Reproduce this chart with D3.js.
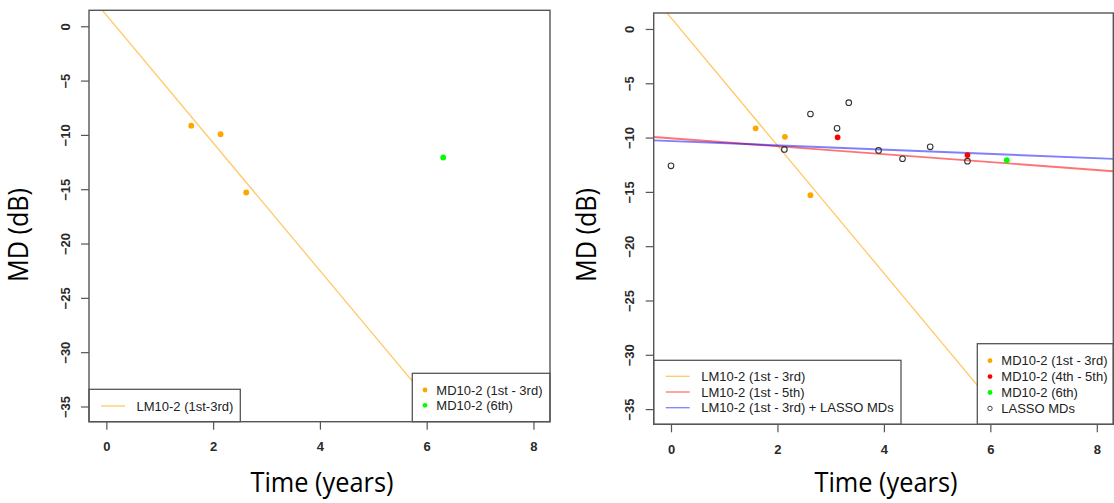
<!DOCTYPE html>
<html>
<head>
<meta charset="utf-8">
<script src="https://cdn.jsdelivr.net/npm/d3@7/dist/d3.min.js"></script>
<style>
  html, body { margin: 0; padding: 0; background: #fff; }
  svg { display: block; }
</style>
</head>
<body>
<svg id="chart" width="1114" height="503"></svg>
<script>
// ---------------- data ----------------
const xTicks = [0, 2, 4, 6, 8];
const yTicks = [0, -5, -10, -15, -20, -25, -30, -35];

// measured MDs (years, dB)
const mdFirstX = [1.59, 2.14, 2.62];
const mdFirstY = [-9.15, -9.93, -15.3];
const mdMidX = [3.13, 5.57];
const mdMidY = [-9.98, -11.61];
const mdLastX = [6.31];
const mdLastY = [-12.08];
// LASSO-predicted MDs
const lassoX = [0.0, 2.13, 2.62, 3.12, 3.34, 3.90, 4.35, 4.87, 5.57];
const lassoY = [-12.6, -11.09, -7.83, -9.15, -6.79, -11.18, -11.95, -10.85, -12.17];

// linear fits (intercept, slope)
const fitNames = ["LM10-2 (1st - 3rd)", "LM10-2 (1st - 5th)", "LM10-2 (1st - 3rd) + LASSO MDs"];
const fitIntercept = [1.03, -10.07, -10.32];
const fitSlope = [-5.88, -0.364, -0.198];

const leftLineLegend = ["LM10-2 (1st-3rd)"];
const leftPointLegend = ["MD10-2 (1st - 3rd)", "MD10-2 (6th)"];
const rightPointLegend = ["MD10-2 (1st - 3rd)", "MD10-2 (4th - 5th)", "MD10-2 (6th)", "LASSO MDs"];

const xLabel = "Time (years)";
const yLabel = "MD (dB)";

// ---------------- styling ----------------
const C = {
  orange: "#FFA500", red: "#FF0000", green: "#00FF00", blue: "#0000FF",
  frame: "#555", text: "#1a1a1a"
};
const lineStyle = [
  { color: C.orange, op: 0.6, w: 1.3 },
  { color: C.red, op: 0.55, w: 1.9 },
  { color: C.blue, op: 0.5, w: 1.9 }
];
const xDomain = [-0.325, 8.31];
const yDomain = [-36.4, 1.47];
const tickFont = "'Liberation Sans', Arial, sans-serif";
const titleFont = "'Open Sans', 'Lato', sans-serif";

const svg = d3.select("#chart");
svg.append("rect").attr("width", 1114).attr("height", 503).attr("fill", "#fff");

function panel(id, box, opts) {
  const g = svg.append("g");
  const x = d3.scaleLinear().domain(xDomain).range([box.x0, box.x1]);
  const y = d3.scaleLinear().domain(yDomain).range([box.y1, box.y0]);

  svg.append("clipPath").attr("id", "clip" + id)
    .append("rect").attr("x", box.x0).attr("y", box.y0)
    .attr("width", box.x1 - box.x0).attr("height", box.y1 - box.y0);

  // axes
  const ya = g.append("g").attr("transform", `translate(${box.x0},0)`)
    .call(d3.axisLeft(y).tickValues(yTicks).tickSize(8).tickFormat(d3.format("d")));
  ya.select(".domain").remove();
  ya.selectAll("line").attr("stroke", C.frame).attr("stroke-width", 1.2);
  ya.selectAll("text")
    .attr("x", null).attr("dy", null).attr("y", 4.6)
    .attr("text-anchor", "middle")
    .attr("transform", "translate(-24,0) rotate(-90)")
    .style("font-family", tickFont).style("font-size", "13px").style("font-weight", "bold")
    .attr("fill", "#2a2a2a");

  const xa = g.append("g").attr("transform", `translate(0,${box.y1})`)
    .call(d3.axisBottom(x).tickValues(xTicks).tickSize(8).tickFormat(d3.format("d")));
  xa.select(".domain").remove();
  xa.selectAll("line").attr("stroke", C.frame).attr("stroke-width", 1.2);
  xa.selectAll("text")
    .attr("dy", null).attr("y", 29.8)
    .style("font-family", tickFont).style("font-size", "13px").style("font-weight", "bold")
    .attr("fill", "#2a2a2a");

  // fit lines
  const lg = g.append("g").attr("clip-path", `url(#clip${id})`);
  const line = d3.line().x(d => x(d[0])).y(d => y(d[1]));
  opts.fits.forEach(i => {
    const pts = xDomain.map(v => [v, fitIntercept[i] + fitSlope[i] * v]);
    lg.append("path").attr("d", line(pts)).attr("fill", "none")
      .attr("stroke", lineStyle[i].color).attr("stroke-opacity", lineStyle[i].op)
      .attr("stroke-width", lineStyle[i].w);
  });

  // points
  const pg = g.append("g").attr("clip-path", `url(#clip${id})`);
  if (opts.lasso) {
    pg.selectAll(".lasso").data(d3.zip(lassoX, lassoY)).join("circle")
      .attr("cx", d => x(d[0])).attr("cy", d => y(d[1])).attr("r", 2.8)
      .attr("fill", "none").attr("stroke", "#333").attr("stroke-width", 1.1);
  }
  const filled = [[mdFirstX, mdFirstY, C.orange]];
  if (opts.mid) filled.push([mdMidX, mdMidY, C.red]);
  filled.push([mdLastX, mdLastY, C.green]);
  filled.forEach(([xs, ys, col]) => {
    pg.selectAll(null).data(d3.zip(xs, ys)).join("circle")
      .attr("cx", d => x(d[0])).attr("cy", d => y(d[1])).attr("r", 2.9)
      .attr("fill", col);
  });

  // legends
  const L1 = opts.lineLegend;
  const lb = g.append("g");
  lb.append("rect").attr("x", L1.x0).attr("y", L1.y0)
    .attr("width", L1.x1 - L1.x0).attr("height", box.y1 - L1.y0)
    .attr("fill", "#fff").attr("stroke", C.frame).attr("stroke-width", 1.3);
  L1.labels.forEach((t, k) => {
    const yy = L1.rowY + k * L1.step;
    const st = lineStyle[L1.fitIdx[k]];
    lb.append("line").attr("x1", L1.x0 + 12).attr("x2", L1.x0 + 36)
      .attr("y1", yy).attr("y2", yy)
      .attr("stroke", st.color).attr("stroke-opacity", st.op).attr("stroke-width", 1.3);
    lb.append("text").attr("x", L1.x0 + 47.5).attr("y", yy + 4.7)
      .attr("font-family", tickFont).attr("font-size", 13).attr("fill", "#222").text(t);
  });

  const L2 = opts.pointLegend;
  const pb = g.append("g");
  pb.append("rect").attr("x", L2.x0).attr("y", L2.y0)
    .attr("width", box.x1 - L2.x0).attr("height", box.y1 - L2.y0)
    .attr("fill", "#fff").attr("stroke", C.frame).attr("stroke-width", 1.3);
  L2.labels.forEach((t, k) => {
    const yy = L2.rowY + k * L2.step;
    const col = L2.colors[k];
    if (col === "open") {
      pb.append("circle").attr("cx", L2.x0 + 12.7).attr("cy", yy).attr("r", 2.2)
        .attr("fill", "none").attr("stroke", "#444").attr("stroke-width", 1);
    } else {
      pb.append("circle").attr("cx", L2.x0 + 12.7).attr("cy", yy).attr("r", 2.4).attr("fill", col);
    }
    pb.append("text").attr("x", L2.x0 + 24).attr("y", yy + 4.7)
      .attr("font-family", tickFont).attr("font-size", 13).attr("fill", "#222").text(t);
  });

  // frame
  g.append("rect").attr("x", box.x0).attr("y", box.y0)
    .attr("width", box.x1 - box.x0).attr("height", box.y1 - box.y0)
    .attr("fill", "none").attr("stroke", C.frame).attr("stroke-width", 1.4);

  // axis titles
  const cx = (box.x0 + box.x1) / 2 + 2.5;
  g.append("text").attr("x", cx).attr("y", 491.5).attr("text-anchor", "middle")
    .attr("font-family", titleFont).attr("font-size", 27).attr("fill", "#000")
    .attr("textLength", 143).attr("lengthAdjust", "spacingAndGlyphs").text(xLabel);
  g.append("text").attr("transform", `translate(${opts.yTitleX},235) rotate(-90)`)
    .attr("text-anchor", "middle")
    .attr("font-family", titleFont).attr("font-size", 27).attr("fill", "#000")
    .attr("textLength", 94).attr("lengthAdjust", "spacingAndGlyphs").text(yLabel);
}

panel("L", { x0: 89, x1: 550, y0: 10.3, y1: 421.7 }, {
  fits: [0], lasso: false, mid: false, yTitleX: 28,
  lineLegend: { x0: 89, x1: 240.3, y0: 389.3, rowY: 406, step: 15.7, labels: leftLineLegend, fitIdx: [0] },
  pointLegend: { x0: 412.3, y0: 373.3, rowY: 390, step: 15.3, labels: leftPointLegend, colors: [C.orange, C.green] }
});

panel("R", { x0: 653.7, x1: 1113.3, y0: 13, y1: 424.3 }, {
  fits: [0, 1, 2], lasso: true, mid: true, yTitleX: 596,
  lineLegend: { x0: 653.7, x1: 901, y0: 360.3, rowY: 376.3, step: 15.7, labels: fitNames, fitIdx: [0, 1, 2] },
  pointLegend: { x0: 977.3, y0: 343.7, rowY: 360.7, step: 15.9, labels: rightPointLegend, colors: [C.orange, C.red, C.green, "open"] }
});
</script>
</body>
</html>
